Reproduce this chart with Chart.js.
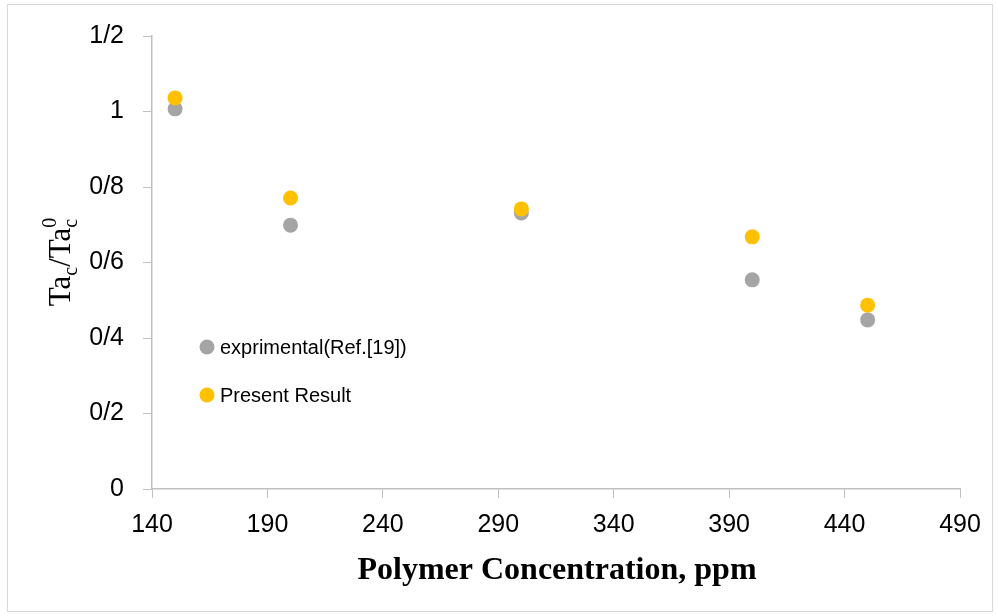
<!DOCTYPE html>
<html>
<head>
<meta charset="utf-8">
<script src="https://cdn.jsdelivr.net/npm/chart.js@4"></script>
<style>
  body { margin: 0; background: #fff; }
  #wrap { width: 998px; height: 616px; }
</style>
</head>
<body>
<div id="wrap"><canvas id="chart" width="998" height="616"></canvas></div>
<script>
// polymer concentration (ppm)
const concentrations = [150, 200, 300, 400, 450];
const experimental = [1.007, 0.699, 0.731, 0.554, 0.448];
const presentResult = [1.036, 0.771, 0.742, 0.668, 0.487];
const seriesNames = ['exprimental(Ref.[19])', 'Present Result'];
const xTickLabels = ['140', '190', '240', '290', '340', '390', '440', '490'];
const yTickLabels = ['0', '0/2', '0/4', '0/6', '0/8', '1', '1/2'];

const toPoints = ys => concentrations.map((x, i) => ({ x: x, y: ys[i] }));

// background, outer frame, legend and axis titles
const decorations = {
  id: 'decorations',
  beforeDraw(chart) {
    const ctx = chart.ctx;
    ctx.save();
    ctx.fillStyle = '#fff';
    ctx.fillRect(0, 0, chart.width, chart.height);
    ctx.strokeStyle = '#d9d9d9';
    ctx.lineWidth = 1;
    ctx.strokeRect(7.5, 4.5, 985, 607);
    ctx.restore();
  },
  afterDraw(chart) {
    const ctx = chart.ctx;
    ctx.save();

    // legend inside the plot
    const legendY = [347, 395];
    chart.data.datasets.forEach((ds, i) => {
      ctx.fillStyle = ds.backgroundColor;
      ctx.beginPath();
      ctx.arc(207, legendY[i], 7.5, 0, Math.PI * 2);
      ctx.fill();
      ctx.fillStyle = '#000';
      ctx.font = '20px "Liberation Sans", Arial, sans-serif';
      ctx.textBaseline = 'middle';
      ctx.textAlign = 'left';
      ctx.fillText(ds.label, 220, legendY[i] + 1);
    });

    // x title
    ctx.font = 'bold 32px "Liberation Serif", "Times New Roman", serif';
    ctx.textAlign = 'center';
    ctx.textBaseline = 'alphabetic';
    ctx.fillText('Polymer Concentration, ppm', 557, 579);

    // y title: Ta_c / Ta_c^0
    const big = '31px "Liberation Serif", "Times New Roman", serif';
    const small = '20px "Liberation Serif", "Times New Roman", serif';
    const parts = [
      { t: 'Ta', f: big, dy: 0 },
      { t: 'c', f: small, dy: 7 },
      { t: '/', f: big, dy: 0 },
      { t: 'Ta', f: big, dy: 0 },
      { t: 'c', f: small, dy: 7 },
      { t: '0', f: small, dy: -14 }
    ];
    let total = 0;
    parts.forEach((p, i) => {
      ctx.font = p.f;
      p.w = ctx.measureText(p.t).width;
      // superscript sits above the subscript
      if (i !== 5) total += p.w;
    });
    total = Math.max(total, total - parts[4].w + Math.max(parts[4].w, parts[5].w));
    ctx.translate(70, 262);
    ctx.rotate(-Math.PI / 2);
    ctx.textAlign = 'left';
    let x = -total / 2;
    parts.forEach((p, i) => {
      ctx.font = p.f;
      if (i === 5) {
        ctx.fillText(p.t, x - parts[4].w, p.dy);
      } else {
        ctx.fillText(p.t, x, p.dy);
        x += p.w;
      }
    });
    ctx.restore();
  }
};

const axisColor = '#bfbfbf';
const tickFont = { family: '"Liberation Sans", Arial, sans-serif', size: 25 };

new Chart(document.getElementById('chart'), {
  type: 'scatter',
  data: {
    datasets: [
      {
        label: seriesNames[0],
        data: toPoints(experimental),
        backgroundColor: '#a5a5a5',
        borderWidth: 0,
        pointRadius: 7.5,
        order: 2
      },
      {
        label: seriesNames[1],
        data: toPoints(presentResult),
        backgroundColor: '#ffc000',
        borderWidth: 0,
        pointRadius: 7.5,
        order: 1
      }
    ]
  },
  options: {
    responsive: false,
    animation: false,
    layout: { padding: { left: 0, top: 36, right: 38, bottom: 0 } },
    plugins: {
      legend: { display: false },
      tooltip: { enabled: false }
    },
    scales: {
      x: {
        type: 'linear',
        min: 140,
        max: 490,
        ticks: {
          stepSize: 50,
          color: '#000',
          font: tickFont,
          padding: 12,
          maxRotation: 0,
          callback: (v, i) => xTickLabels[i]
        },
        grid: { drawOnChartArea: false, color: axisColor, tickLength: 9 },
        border: { color: axisColor, width: 1.5 },
        afterFit: scale => { scale.height = 616 - 489; }
      },
      y: {
        min: 0,
        max: 1.2,
        ticks: {
          stepSize: 0.2,
          color: '#000',
          font: tickFont,
          padding: 19,
          callback: (v, i) => yTickLabels[i]
        },
        grid: { drawOnChartArea: false, color: axisColor, tickLength: 9 },
        border: { color: axisColor, width: 1.5 },
        afterFit: scale => { scale.width = 152; }
      }
    }
  },
  plugins: [decorations]
});
</script>
</body>
</html>
